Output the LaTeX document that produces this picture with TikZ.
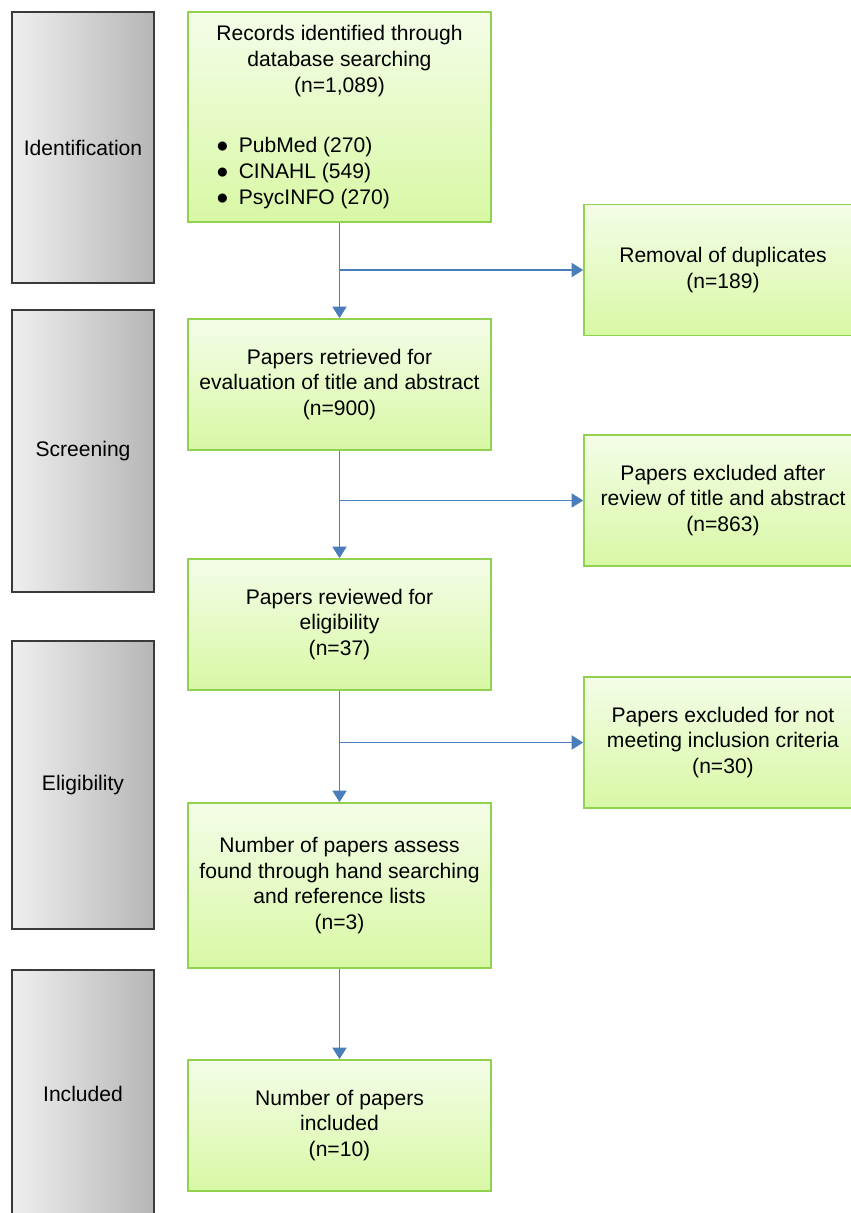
\documentclass[tikz,border=0pt]{standalone}
\usepackage{fontspec}
\setmainfont{Liberation Sans}
\usetikzlibrary{arrows.meta}

\definecolor{phaseedge}{HTML}{3A3A3A}
\definecolor{phaseleft}{HTML}{EFEFEF}
\definecolor{phaseright}{HTML}{B6B6B6}
\definecolor{boxedge}{HTML}{92D050}
\definecolor{boxtop}{HTML}{F4FDE8}
\definecolor{boxbottom}{HTML}{D8F8A4}
\definecolor{flowblue}{HTML}{4A7EBB}

\tikzset{
  phase/.style={draw=phaseedge, line width=0.9pt, left color=phaseleft, right color=phaseright,
    minimum width=2.84cm, align=center},
  box/.style={draw=boxedge, line width=1pt, top color=boxtop, bottom color=boxbottom,
    minimum width=6.06cm, minimum height=2.62cm, align=center},
  sidebox/.style={box, minimum width=5.56cm},
  flow/.style={draw=flowblue, line width=0.8pt, -{Triangle[length=6.5pt,width=8pt]}}
}

\begin{document}
\begin{tikzpicture}[x=0.02cm, y=-0.02cm, font=\fontsize{12}{14.6}\selectfont]
  \useasboundingbox (0,0) rectangle (850,1213);
  % phases
  \node[phase, minimum height=5.42cm] (ident) at (83,147.5) {Identification};
  \node[phase, minimum height=5.64cm] (screen) at (83,451) {Screening};
  \node[phase, minimum height=5.76cm] (elig) at (83,785) {Eligibility};
  \node[phase, minimum height=4.96cm, anchor=north] (incl) at (83,969) {Included};
  %%%%%%%%%%%%%%%%%%%%%%%%%%%%%%%%
  \node[box, minimum height=4.2cm] (records) at (339.5,117) {Records identified through\\database searching\\(n=1,089)\\[20pt]
    \makebox[4.94cm][l]{●\hspace{0.2cm}PubMed (270)}\\
    \makebox[4.94cm][l]{●\hspace{0.2cm}CINAHL (549)}\\
    \makebox[4.94cm][l]{●\hspace{0.2cm}PsycINFO (270)}};
  \node[box] (retrieved) at (339.5,384.5) {Papers retrieved for\\evaluation of title and abstract\\(n=900)};
  \node[box] (reviewed) at (339.5,624.5) {Papers reviewed for\\eligibility\\(n=37)};
  \node[box, minimum height=3.3cm] (hand) at (339.5,885.5) {Number of papers assess\\found through hand searching\\and reference lists\\(n=3)};
  \node[box] (included) at (339.5,1125.5) {Number of papers\\included\\(n=10)};
  %%%%%%%%%%%%%%%%%%%%%%%%%%%%%%%%
  \node[sidebox] (dupl) at (723,270) {Removal of duplicates\\(n=189)};
  \node[sidebox] (exabs) at (723,500.5) {Papers excluded after\\review of title and abstract\\(n=863)};
  \node[sidebox] (excrit) at (723,742.5) {Papers excluded for not\\meeting inclusion criteria\\(n=30)};
  %%%%%%%%%%%%%%%%%%%%%%%%%%%%%%%%
  \draw[flow] (records) -- (retrieved);
  \draw[flow] (retrieved) -- (reviewed);
  \draw[flow] (reviewed) -- (hand);
  \draw[flow] (hand) -- (included);
  \draw[flow] (records.south |- dupl.west) -- (dupl.west);
  \draw[flow] (retrieved.south |- exabs.west) -- (exabs.west);
  \draw[flow] (reviewed.south |- excrit.west) -- (excrit.west);
\end{tikzpicture}
\end{document}
